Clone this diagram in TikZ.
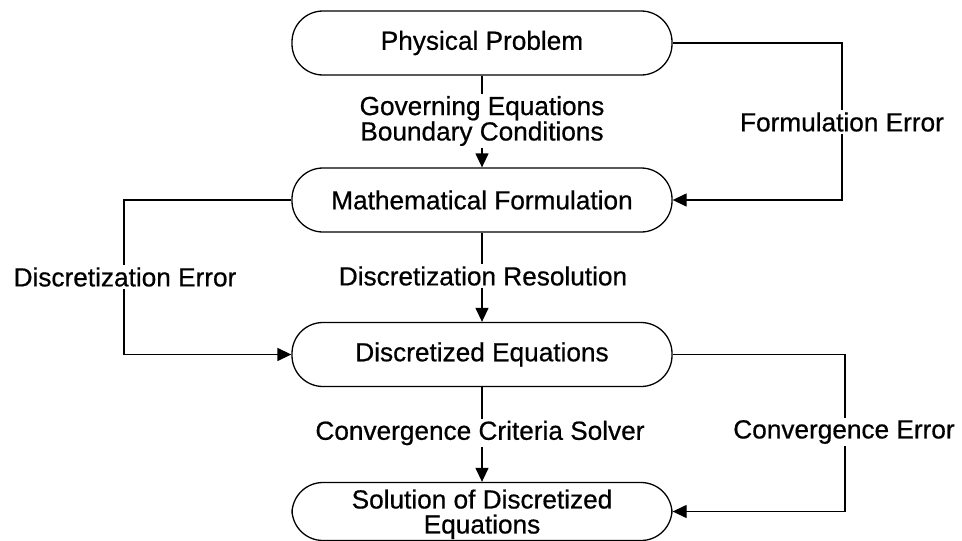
\documentclass[tikz,border=0pt]{standalone}
\usepackage{fontspec}
\setmainfont{Liberation Sans}[FakeBold=0.6]
\usetikzlibrary{arrows.meta}
\begin{document}
\begin{tikzpicture}[x=1pt,y=-1pt,
  box/.style={draw, line width=1.3pt, rounded corners=31pt, minimum width=380pt, minimum height=64pt, inner sep=0pt, align=center, font=\fontsize{26.2}{25}\selectfont},
  lbl/.style={fill=white, inner sep=2pt, align=center, font=\fontsize{26.2}{24}\selectfont},
  conn/.style={line width=1.3pt},
  arr/.style={conn, -{Triangle[length=14pt,width=13pt]}}]
\useasboundingbox (0,0) rectangle (962,541);
\node[box] (pp) at (482,43) {Physical Problem};
\node[box] (mf) at (482,200) {Mathematical Formulation};
\node[box] (de) at (482,354.5) {Discretized Equations};
\node[box, minimum height=58pt, text depth=0pt] (sd) at (482,511.5) {Solution of Discretized\\Equations};
% central connectors
\draw[arr] (pp.south) -- (mf.north);
\draw[arr] (mf.south) -- (de.north);
\draw[arr] (de.south) -- (sd.north);
\node[lbl] (l1) at (482,121) {Governing Equations\\Boundary Conditions};
\node[lbl] (l2) at (483,276) {Discretization Resolution};
\node[lbl] (l3) at (480,433) {Convergence Criteria Solver};
% side loops
\coordinate (fe1) at (842,43);
\coordinate (fe2) at (842,200);
\draw[arr] (pp.east) -- (fe1) -- (fe2) -- (mf.east);
\node[lbl] (l4) at (842,122) {Formulation Error};
\coordinate (dz1) at (124,200);
\coordinate (dz2) at (124,354.5);
\draw[arr] (mf.west) -- (dz1) -- (dz2) -- (de.west);
\node[lbl] (l5) at (125,277) {Discretization Error};
\coordinate (ce1) at (845,354.5);
\coordinate (ce2) at (845,511.5);
\draw[arr] (de.east) -- (ce1) -- (ce2) -- (sd.east);
\node[lbl] (l6) at (844,432) {Convergence Error};
\end{tikzpicture}
\end{document}
